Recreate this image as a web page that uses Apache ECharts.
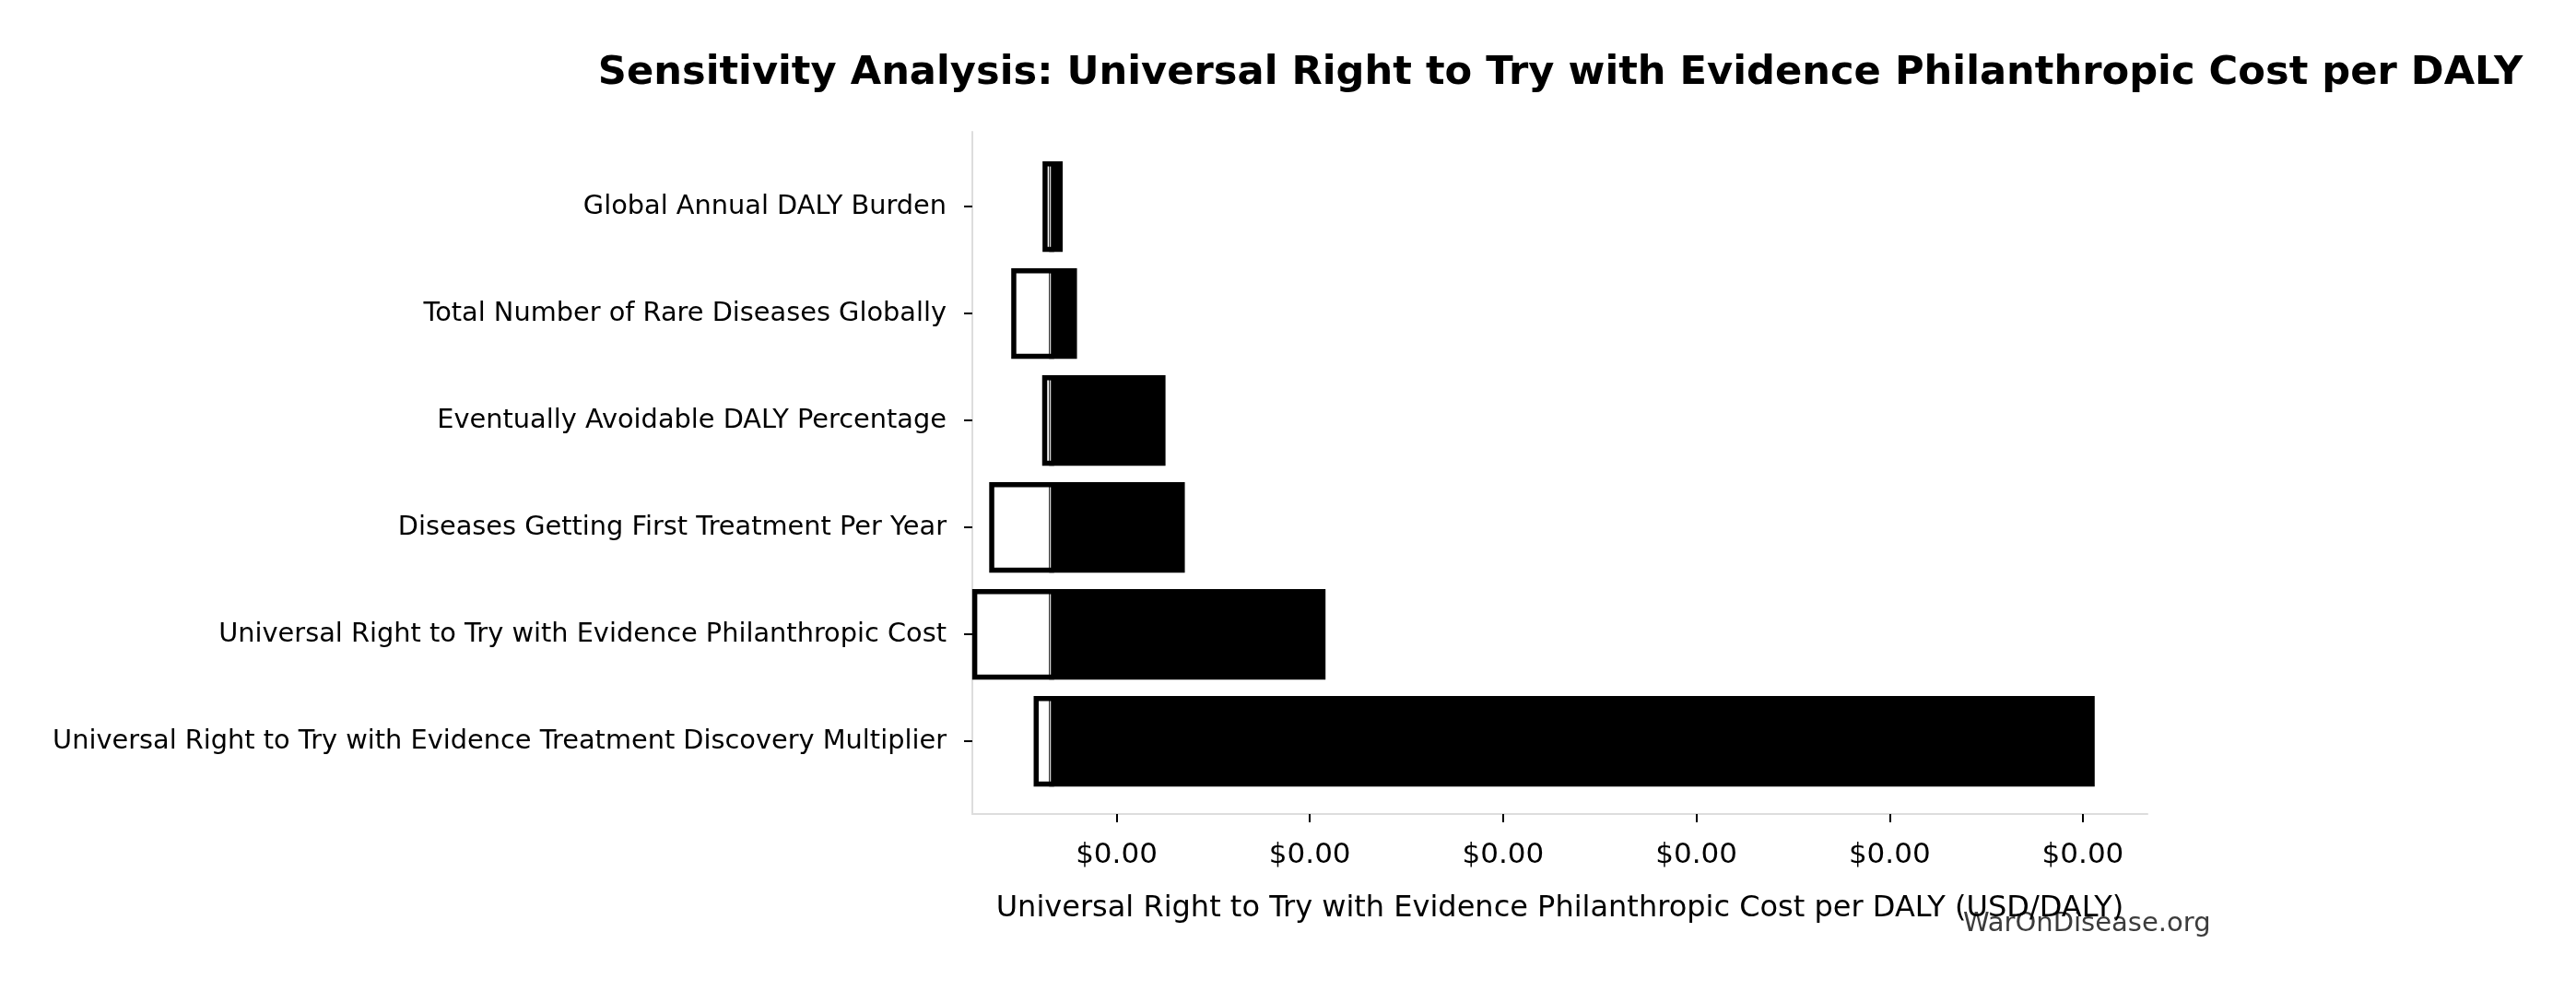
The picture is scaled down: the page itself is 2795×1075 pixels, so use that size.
<!DOCTYPE html>
<html>
<head>
<meta charset="utf-8">
<script src="https://cdn.jsdelivr.net/npm/echarts@6.0.0/dist/echarts.min.js"></script>
<style>
  html, body { margin: 0; padding: 0; background: #fff; }
  #chart { width: 2795px; height: 1075px; }
</style>
</head>
<body>
<div id="chart"></div>
<script>
// 参数名称（自上而下）
const categories = [
  'Global Annual DALY Burden',
  'Total Number of Rare Diseases Globally',
  'Eventually Avoidable DALY Percentage',
  'Diseases Getting First Treatment Per Year',
  'Universal Right to Try with Evidence Philanthropic Cost',
  'Universal Right to Try with Evidence Treatment Discovery Multiplier'
];
// 低值 / 高值 结果（USD/DALY）
const lowValues  = [0.000315, 0.000234, 0.000314, 0.000177, 0.000133, 0.000292];
const highValues = [0.000354, 0.000391, 0.000620, 0.000670, 0.001034, 0.003024];
// 基准值
const baseValue = 0.000332;
// x 轴刻度
const xTicks = [0.0005, 0.0010, 0.0015, 0.0020, 0.0025, 0.0030];
const xMin = 0.0001268;
const xMax = 0.003167;

const font = 'DejaVu Sans';
const chart = echarts.init(document.getElementById('chart'));

const seriesData = categories.map((c, i) => [i, lowValues[i], highValues[i]]);

chart.setOption({
  animation: false,
  backgroundColor: '#fff',
  title: {
    text: 'Sensitivity Analysis: Universal Right to Try with Evidence Philanthropic Cost per DALY',
    left: 1688,
    top: 53,
    textAlign: 'center',
    textStyle: { fontFamily: font, fontSize: 43.2, fontWeight: 'bold', color: '#000' }
  },
  grid: { left: 1055, right: 465, top: 143, bottom: 192 },
  xAxis: {
    type: 'value',
    min: xMin,
    max: xMax,
    name: 'Universal Right to Try with Evidence Philanthropic Cost per DALY (USD/DALY)',
    nameLocation: 'middle',
    nameGap: 87,
    nameTextStyle: { fontFamily: font, fontSize: 32, color: '#000' },
    axisLine: { show: true, onZero: false, lineStyle: { color: '#dddddd', width: 2 } },
    axisTick: { show: true, customValues: xTicks, length: 9, lineStyle: { color: '#000', width: 2 } },
    axisLabel: {
      customValues: xTicks,
      margin: 29,
      fontFamily: font, fontSize: 31, color: '#000',
      formatter: v => '$' + v.toFixed(2)
    },
    splitLine: { show: false }
  },
  yAxis: {
    type: 'value',
    min: -0.70,
    max: 5.68,
    inverse: true,
    axisLine: { show: true, onZero: false, lineStyle: { color: '#dddddd', width: 2 } },
    axisTick: { show: true, customValues: [0, 1, 2, 3, 4, 5], length: 9, lineStyle: { color: '#000', width: 2 } },
    axisLabel: {
      customValues: [0, 1, 2, 3, 4, 5],
      margin: 28,
      padding: [6, 0, 0, 0],
      fontFamily: font, fontSize: 28.8, color: '#000',
      formatter: v => categories[Math.round(v)] || ''
    },
    splitLine: { show: false }
  },
  series: [{
    type: 'custom',
    data: seriesData,
    encode: { x: [1, 2], y: 0 },
    clip: false,
    renderItem: (params, api) => {
      const i = api.value(0);
      const lo = api.value(1);
      const hi = api.value(2);
      const half = api.size([0, 0.8])[1] / 2;
      const yc = api.coord([baseValue, i])[1];
      const xLo = api.coord([lo, i])[0];
      const xBase = api.coord([baseValue, i])[0];
      const xHi = api.coord([hi, i])[0];
      return {
        type: 'group',
        children: [
          {
            type: 'rect',
            shape: { x: xLo, y: yc - half, width: xBase - xLo, height: half * 2 },
            style: { fill: '#fff', stroke: '#000', lineWidth: 5.5 }
          },
          {
            type: 'rect',
            shape: { x: xBase, y: yc - half, width: xHi - xBase, height: half * 2 },
            style: { fill: '#000', stroke: '#000', lineWidth: 5.5 }
          },
          {
            type: 'line',
            shape: { x1: xBase - 1.5, y1: yc - half + 2.8, x2: xBase - 1.5, y2: yc + half - 2.8 },
            style: { stroke: '#d0d0d0', lineWidth: 1.4 }
          }
        ]
      };
    },
    markLine: {
      silent: true,
      symbol: ['none', 'none'],
      label: { show: false },
      lineStyle: { color: '#808080', width: 2.5, type: [10, 4.5] },
      data: [{ xAxis: baseValue }],
      z: 10
    }
  }],
  graphic: [{
    type: 'text',
    left: 2130,
    top: 988,
    style: { text: 'WarOnDisease.org', fontFamily: font, fontSize: 29, fill: '#3c3c3c' }
  }]
});
</script>
</body>
</html>
